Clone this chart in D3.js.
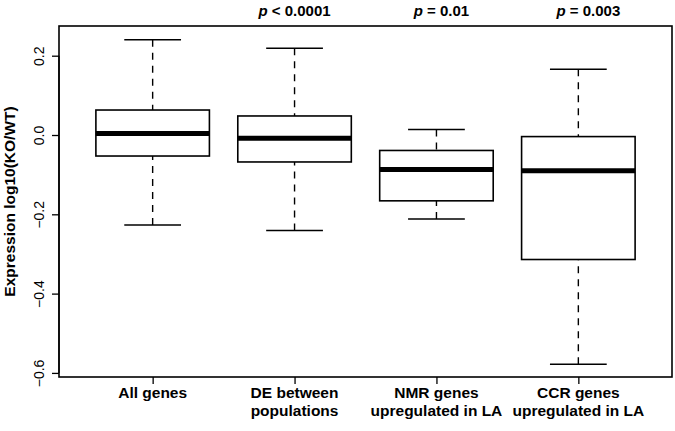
<!DOCTYPE html>
<html>
<head>
<meta charset="utf-8">
<script src="https://cdn.jsdelivr.net/npm/d3@7"></script>
<style>
  html, body { margin: 0; padding: 0; background: #fff; }
  svg { display: block; }
  text { font-family: "Liberation Sans", Arial, Helvetica, sans-serif; fill: #000; }
</style>
</head>
<body>
<svg id="chart" width="675" height="431"></svg>
<script>
// ---- data ----
const categories = [["All genes"], ["DE between", "populations"], ["NMR genes", "upregulated in LA"], ["CCR genes", "upregulated in LA"]];
const whiskerLow  = [-0.227, -0.241, -0.212, -0.578];
const q1          = [-0.053, -0.068, -0.166, -0.314];
const medians     = [ 0.004, -0.008, -0.087, -0.090];
const q3          = [ 0.063,  0.048, -0.039, -0.004];
const whiskerHigh = [ 0.240,  0.219,  0.014,  0.166];
const pLabels     = [null, "< 0.0001", "= 0.01", "= 0.003"];
const yTicks      = [-0.6, -0.4, -0.2, 0.0, 0.2];
const yTitle      = "Expression log10(KO/WT)";

// ---- layout ----
const W = 675, H = 431;
const frame = { left: 59, right: 672, top: 26, bottom: 377 };
const svg = d3.select("#chart");

const x = d3.scaleLinear().domain([0.34, 4.66]).range([frame.left, frame.right]);
const y = d3.scaleLinear().domain([-0.6103, 0.2749]).range([frame.bottom, frame.top]);
const boxW = x(0.8) - x(0);
const capW = boxW / 2;

// frame
svg.append("rect")
  .attr("x", frame.left).attr("y", frame.top)
  .attr("width", frame.right - frame.left).attr("height", frame.bottom - frame.top)
  .attr("fill", "none").attr("stroke", "#000").attr("stroke-width", 1.6);

// y axis
const yAxis = d3.axisLeft(y).tickValues(yTicks).tickSize(7).tickPadding(8)
  .tickFormat(d3.format(".1f"));
const gy = svg.append("g").attr("transform", `translate(${frame.left},0)`).call(yAxis);
gy.select(".domain").remove();
gy.selectAll(".tick line").attr("stroke", "#000").attr("stroke-width", 1.3);
gy.selectAll(".tick text")
  .attr("x", null).attr("dy", null)
  .attr("text-anchor", "middle")
  .attr("font-size", 14)
  .attr("transform", d => `translate(-15,0) rotate(-90)`)
  .attr("y", 0);
svg.append("line")
  .attr("x1", frame.left).attr("x2", frame.left)
  .attr("y1", y(yTicks[0])).attr("y2", y(yTicks[yTicks.length - 1]))
  .attr("stroke", "#000").attr("stroke-width", 1.3);

// y title
svg.append("text")
  .attr("transform", `translate(15,${(frame.top + frame.bottom) / 2}) rotate(-90)`)
  .attr("text-anchor", "middle")
  .attr("font-size", 15.5).attr("font-weight", "bold")
  .text(yTitle);

// x axis ticks & labels
const xIdx = categories.map((_, i) => i + 1);
const xAxis = d3.axisBottom(x).tickValues(xIdx).tickSize(7).tickFormat("");
const gx = svg.append("g").attr("transform", `translate(0,${frame.bottom})`).call(xAxis);
gx.select(".domain").remove();
gx.selectAll(".tick line").attr("stroke", "#000").attr("stroke-width", 1.3);

categories.forEach((lines, i) => {
  const t = svg.append("text")
    .attr("text-anchor", "middle")
    .attr("font-size", 15.5).attr("font-weight", "bold");
  lines.forEach((ln, j) => {
    t.append("tspan").attr("x", x(i + 1)).attr("y", 398 + j * 18).text(ln);
  });
});

// p-value labels
const pShift = [0, 0, 5, 10];
pLabels.forEach((lab, i) => {
  if (!lab) return;
  const t = svg.append("text")
    .attr("x", x(i + 1) + pShift[i]).attr("y", 16)
    .attr("text-anchor", "middle")
    .attr("font-size", 15).attr("font-weight", "bold");
  t.append("tspan").attr("font-style", "italic").text("p");
  t.append("tspan").text(" " + lab);
});

// boxes
const g = svg.append("g");
categories.forEach((_, i) => {
  const cx = x(i + 1);
  // whiskers (dashed), drawn from whisker end toward box
  g.append("line")
    .attr("x1", cx).attr("x2", cx)
    .attr("y1", y(whiskerHigh[i])).attr("y2", y(q3[i]))
    .attr("stroke", "#000").attr("stroke-width", 1.4).attr("stroke-dasharray", "7,6");
  g.append("line")
    .attr("x1", cx).attr("x2", cx)
    .attr("y1", y(whiskerLow[i])).attr("y2", y(q1[i]))
    .attr("stroke", "#000").attr("stroke-width", 1.4).attr("stroke-dasharray", "7,6");
  // caps
  [whiskerHigh[i], whiskerLow[i]].forEach(v => {
    g.append("line")
      .attr("x1", cx - capW / 2).attr("x2", cx + capW / 2)
      .attr("y1", y(v)).attr("y2", y(v))
      .attr("stroke", "#000").attr("stroke-width", 1.5);
  });
  // box
  g.append("rect")
    .attr("x", cx - boxW / 2).attr("y", y(q3[i]))
    .attr("width", boxW).attr("height", y(q1[i]) - y(q3[i]))
    .attr("fill", "#fff").attr("stroke", "#000").attr("stroke-width", 1.6);
  // median
  g.append("line")
    .attr("x1", cx - boxW / 2).attr("x2", cx + boxW / 2)
    .attr("y1", y(medians[i])).attr("y2", y(medians[i]))
    .attr("stroke", "#000").attr("stroke-width", 5);
});
</script>
</body>
</html>
